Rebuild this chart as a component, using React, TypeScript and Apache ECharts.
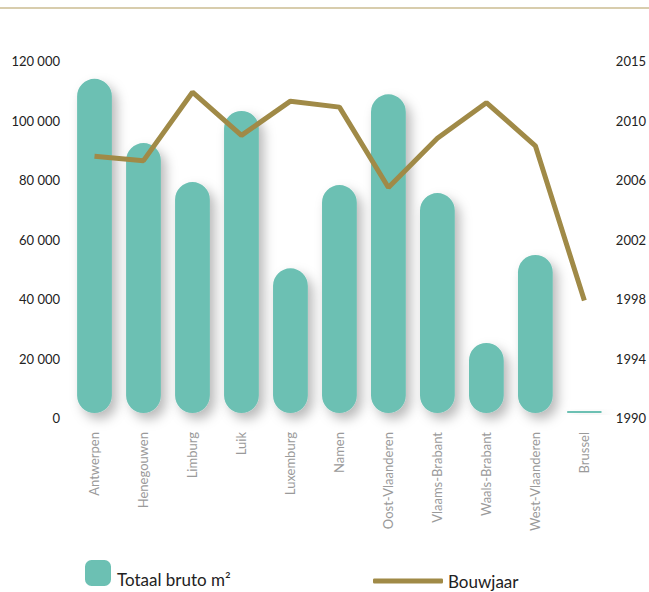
import React, { useEffect, useRef } from "react";
import * as echarts from "echarts";

const categories = [
  "Antwerpen",
  "Henegouwen",
  "Limburg",
  "Luik",
  "Luxemburg",
  "Namen",
  "Oost-Vlaanderen",
  "Vlaams-Brabant",
  "Waals-Brabant",
  "West-Vlaanderen",
  "Brussel",
];
const totaalBruto = [114000, 92400, 79300, 103200, 50300, 78300, 108800, 75600, 25200, 54800, 600];
const bouwjaar = [2007.6, 2007.3, 2011.9, 2009.0, 2011.3, 2010.9, 2005.5, 2008.8, 2011.2, 2008.3, 1997.9];
const seriesNames = ["Totaal bruto m²", "Bouwjaar"];

const BAR = "#6cc0b3";
const LINE = "#a08a47";
const FONT = "Lato";

const fmtThousands = (v: number) => String(v).replace(/\B(?=(\d{3})+(?!\d))/g, " ");

export default function App() {
  const ref = useRef<HTMLDivElement>(null);
  useEffect(() => {
    if (!ref.current) return;
    const chart = echarts.init(ref.current, null, { renderer: "svg" });
    chart.setOption({
      animation: false,
      textStyle: { fontFamily: FONT },
      graphic: [
        {
          type: "line",
          shape: { x1: 0, y1: 8, x2: 649, y2: 8 },
          style: { stroke: "#cbbd92", lineWidth: 1.5 },
        },
        {
          type: "text",
          left: 117,
          top: 571,
          style: { text: seriesNames[0], fontSize: 17, fill: "#222", fontFamily: FONT },
        },
      ],
      grid: { left: 70, right: 39, top: 61, bottom: 174 },
      legend: [
        {
          data: [{ name: seriesNames[0], icon: "roundRect" }],
          left: 85,
          top: 560,
          padding: 0,
          itemWidth: 26,
          itemHeight: 26,
          formatter: () => "",
        },
        {
          data: [{ name: seriesNames[1], icon: "roundRect" }],
          left: 373,
          top: 572,
          padding: 0,
          itemWidth: 70,
          itemHeight: 5,
          textStyle: { fontSize: 17, lineHeight: 18, color: "#222", fontFamily: FONT },
        },
      ],
      xAxis: {
        type: "category",
        data: categories,
        axisLine: { show: false },
        axisTick: { show: false },
        axisLabel: { rotate: 90, color: "#9a9a9a", fontSize: 13, margin: 14, fontFamily: FONT },
      },
      yAxis: [
        {
          type: "value",
          min: 0,
          max: 120000,
          interval: 20000,
          splitLine: { show: false },
          axisLine: { show: false },
          axisTick: { show: false },
          axisLabel: { color: "#222", fontSize: 13, margin: 10, fontFamily: FONT, formatter: fmtThousands },
        },
        {
          type: "value",
          min: 1990,
          max: 2014,
          interval: 4,
          splitLine: { show: false },
          axisLine: { show: false },
          axisTick: { show: false },
          axisLabel: {
            color: "#222",
            fontSize: 13,
            margin: 7,
            fontFamily: FONT,
            formatter: (v: number) => (v === 2014 ? "2015" : String(v)),
          },
        },
      ],
      series: [
        {
          name: seriesNames[0],
          type: "custom",
          itemStyle: { color: BAR },
          encode: { x: 0, y: 1 },
          data: totaalBruto.map((v, i) => [i, v]),
          renderItem: (params: any, api: any) => {
            const idx = api.value(0);
            const val = api.value(1);
            const top = api.coord([idx, val]);
            const base = api.coord([idx, 0]);
            const w = api.size([1, 0])[0] * 0.71;
            const bottom = base[1] - 5;
            const h = Math.max(2, bottom - top[1]);
            return {
              type: "rect",
              shape: { x: top[0] - w / 2, y: bottom - h, width: w, height: h, r: Math.min(w / 2, h / 2) },
              style: {
                fill: BAR,
                shadowBlur: 12,
                shadowColor: "rgba(0,0,0,0.28)",
                shadowOffsetX: 5,
                shadowOffsetY: 6,
              },
            };
          },
        },
        {
          name: seriesNames[1],
          type: "line",
          yAxisIndex: 1,
          data: bouwjaar,
          symbol: "none",
          itemStyle: { color: LINE },
          lineStyle: { color: LINE, width: 5 },
          z: 5,
        },
      ],
    });
    return () => chart.dispose();
  }, []);
  return (
    <div
      ref={ref}
      style={{ position: "fixed", left: 0, top: 0, width: 649, height: 592, background: "#fff" }}
    />
  );
}
